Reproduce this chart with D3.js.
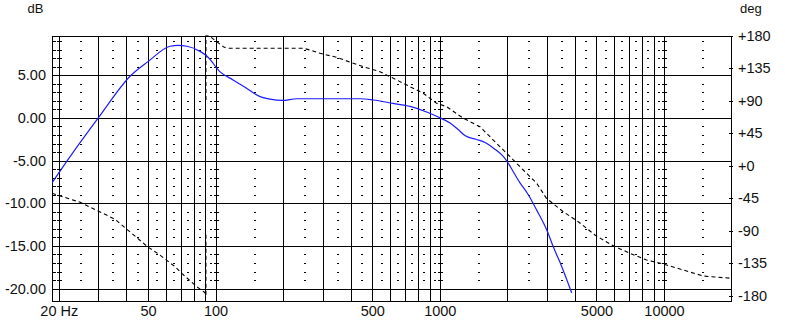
<!DOCTYPE html>
<html>
<head>
<meta charset="utf-8">
<script src="https://cdn.jsdelivr.net/npm/d3@7/dist/d3.min.js"></script>
<style>
body { margin: 0; background: #fff; }
svg { display: block; font-family: "Liberation Sans", Arial, sans-serif; }
</style>
</head>
<body>
<div id="chart"></div>
<script>
// magnitude (blue)
let magFreq = [18.65, 22.5, 30, 42, 50, 62.7, 68, 74.6, 85.3, 91.9, 104.8, 119.7, 135.4, 158, 175, 199, 230, 441, 505, 619, 737, 874, 985, 1111, 1200, 1300, 1450, 1600, 1750, 1919, 2279, 2482, 2706, 2998, 3208, 3497, 3875]
let magDb = [-7.6, -4.5, 0.0, 5.0, 6.6, 8.4, 8.5, 8.4, 7.8, 7.2, 5.4, 4.45, 3.6, 2.5, 2.2, 2.05, 2.25, 2.25, 2.1, 1.7, 1.35, 0.7, 0.1, -0.6, -1.3, -2.1, -2.5, -2.9, -3.6, -4.5, -7.6, -9.0, -10.8, -13.1, -15.1, -17.4, -20.5]

// phase (dashed), null = pen lifted at the wrap
let phaseFreq = [18.65, 24.9, 35.6, 50.1, 55.6, 66, 70.7, 82.5, 89.8, 90.6, 90.6, 90.6, 90.6, 90.6, 93.9, 101.3, 108.4, 112, 175, 246, 264, 292.5, 347, 412, 456, 541, 621, 737, 844, 969, 1074, 1274, 1511, 1732, 1988, 2357, 2706, 2991, 3554, 4146, 4920, 5844, 7048, 8364, 9920, 12180, 14950, 20000]
let phaseDeg = [-38, -50.5, -74, -112.8, -122, -139.7, -149, -167.4, -175.7, -180, -92, null, 91, 180, 179.7, 171.8, 164.9, 162.7, 162.7, 162.7, 160.3, 155.8, 150.2, 141.9, 137.2, 130.3, 121.2, 109.5, 100.4, 86.5, 81.8, 65.8, 54.1, 35.7, 17.3, -5.8, -24.2, -45, -63.6, -77.4, -95.8, -109.7, -121.2, -130.4, -136, -144.3, -152.6, -155.8]

// tick labels
let xTickVals = [20, 50, 100, 500, 1000, 5000, 10000]
let xTickText = ["20 Hz", "50", "100", "500", "1000", "5000", "10000"]
let dbTicks = [5, 0, -5, -10, -15, -20]
let degTicks = [180, 135, 90, 45, 0, -45, -90, -135, -180]

// grid
let decades = [10, 100, 1000]
let majorFreqs = []
let halfFreqs = []
decades.forEach(dec => {
    for (let k = 1; k <= 9; k++) {
        if (dec * k >= 20) majorFreqs.push(dec * k)
        if (dec * (k + 0.5) > 20) halfFreqs.push(dec * (k + 0.5))
    }
})
majorFreqs.push(10000)
halfFreqs.push(15000)
let markFreqs = [20, 100, 1000, 10000]
let dbMinor = d3.range(-19, 10).filter(d => d % 5 !== 0)

let svgWidth = 785
let svgHeight = 331
let plot = { left: 52, right: 731, top: 36, bottom: 301 }

let svg = d3.select("#chart")
    .append("svg")
    .attr("width", svgWidth)
    .attr("height", svgHeight)

let x = d3.scaleLog().domain([18.65, 20000]).range([plot.left, plot.right + 0.5])
let y = d3.scaleLinear().domain([-21.45, 9.6]).range([plot.bottom, plot.top])
let yPh = d3.scaleLinear().domain([-180, 180]).range([295.8, 35.8])

let px = v => Math.round(v) + 0.5

let grid = svg.append("g").attr("shape-rendering", "crispEdges")

// minor dots on the half lines
halfFreqs.forEach(f => {
    dbMinor.forEach(d => {
        grid.append("rect")
            .attr("x", Math.round(x(f)) - 1)
            .attr("y", Math.round(y(d)))
            .attr("width", 2).attr("height", 1)
            .attr("fill", "#000")
    })
})

// major vertical lines
grid.selectAll(".vline")
    .data(majorFreqs)
    .enter()
    .append("line")
    .attr("x1", d => px(x(d))).attr("x2", d => px(x(d)))
    .attr("y1", plot.top).attr("y2", plot.bottom)
    .attr("stroke", "#000")

// + marks on labelled lines
markFreqs.forEach(f => {
    dbMinor.forEach(d => {
        grid.append("rect")
            .attr("x", Math.round(x(f)) - 2)
            .attr("y", Math.round(y(d)))
            .attr("width", 5).attr("height", 1)
            .attr("fill", "#000")
    })
})

// left border minor ticks
dbMinor.forEach(d => {
    grid.append("rect")
        .attr("x", plot.left).attr("y", Math.round(y(d)))
        .attr("width", 4).attr("height", 1)
        .attr("fill", "#000")
})

// right border phase ticks
degTicks.forEach(d => {
    grid.append("rect")
        .attr("x", plot.right - 2).attr("y", Math.round(yPh(d)))
        .attr("width", 4).attr("height", 1)
        .attr("fill", "#000")
})

// horizontal lines
grid.selectAll(".hline")
    .data(dbTicks)
    .enter()
    .append("line")
    .attr("x1", plot.left).attr("x2", plot.right)
    .attr("y1", d => px(y(d))).attr("y2", d => px(y(d)))
    .attr("stroke", "#000")

// frame
grid.append("rect")
    .attr("x", plot.left + 0.5).attr("y", plot.top + 0.5)
    .attr("width", plot.right - plot.left).attr("height", plot.bottom - plot.top)
    .attr("fill", "none").attr("stroke", "#000")

svg.append("clipPath").attr("id", "clip")
    .append("rect")
    .attr("x", plot.left).attr("y", plot.top - 1)
    .attr("width", plot.right - plot.left + 1).attr("height", plot.bottom - plot.top + 2)

// phase curve
let phaseData = phaseFreq.map((f, i) => [f, phaseDeg[i]])
let phaseLine = d3.line()
    .defined(d => d[1] !== null)
    .x(d => x(d[0]))
    .y(d => yPh(d[1]))

svg.append("path")
    .datum(phaseData)
    .attr("clip-path", "url(#clip)")
    .attr("d", phaseLine)
    .attr("fill", "none")
    .attr("stroke", "#000")
    .attr("stroke-width", 1.1)
    .attr("stroke-dasharray", "4,3")

// magnitude curve
let magData = magFreq.map((f, i) => [f, magDb[i]])
let magLine = d3.line()
    .x(d => x(d[0]))
    .y(d => y(d[1]))
    .curve(d3.curveMonotoneX)

svg.append("path")
    .datum(magData)
    .attr("clip-path", "url(#clip)")
    .attr("d", magLine)
    .attr("fill", "none")
    .attr("stroke", "#1c1cff")
    .attr("stroke-width", 1.2)

// axes (labels only)
let leftAxis = d3.axisLeft(y).tickValues(dbTicks).tickSize(0).tickPadding(6)
    .tickFormat(d => d.toFixed(2))
let rightAxis = d3.axisRight(yPh).tickValues(degTicks).tickSize(0).tickPadding(7)
    .tickFormat(d => (d >= 0 ? "+" : "") + d)
let bottomAxis = d3.axisBottom(x).tickValues(xTickVals).tickSize(0).tickPadding(5)
    .tickFormat((d, i) => xTickText[i])

let gl = svg.append("g").attr("transform", `translate(${plot.left},0)`).call(leftAxis)
let gr = svg.append("g").attr("transform", `translate(${plot.right},0)`).call(rightAxis)
let gb = svg.append("g").attr("transform", `translate(0,${plot.bottom})`).call(bottomAxis)

;[gl, gr, gb].forEach(g => {
    g.select(".domain").remove()
    g.selectAll("text")
        .style("font-family", "'Liberation Sans', Arial, sans-serif")
        .style("font-size", "14.5px")
        .attr("fill", "#111")
})

svg.append("text")
    .attr("x", 35.5).attr("y", 13.3)
    .attr("text-anchor", "middle")
    .style("font-size", "13px")
    .attr("fill", "#111")
    .text("dB")

svg.append("text")
    .attr("x", 740).attr("y", 12.6)
    .style("font-size", "13px")
    .attr("fill", "#111")
    .text("deg")
</script>
</body>
</html>
